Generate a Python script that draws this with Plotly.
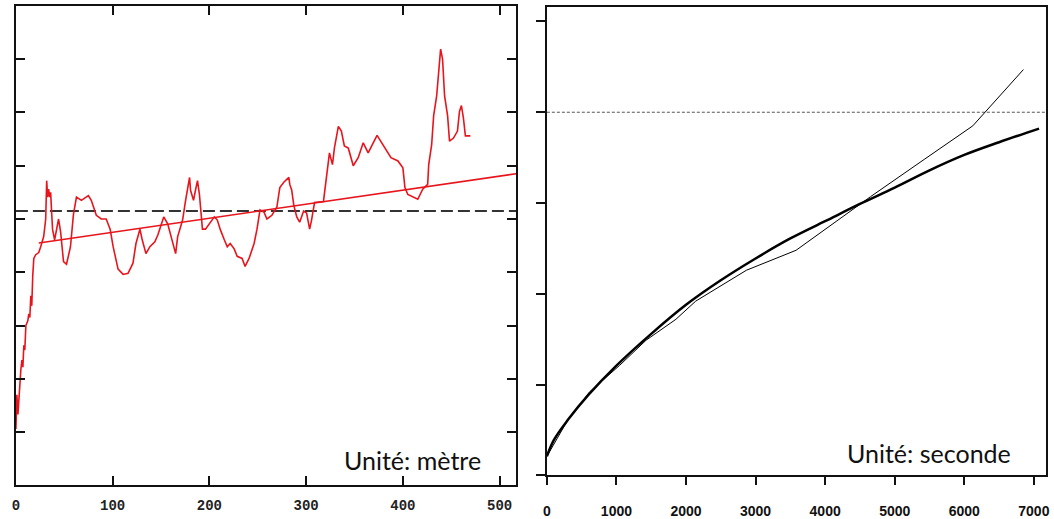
import plotly.graph_objects as go

# ---------------- Left panel (distance, metres) ----------------
dist_x = [0, 1.0, 2.1, 4.1, 5.1, 6.2, 7.2, 8.2, 9.2, 10.3, 12.3, 13.3, 14.4, 15.4, 16.4, 17.4,
          18.5, 20.5, 23.6, 25.6, 26.7, 28.7, 30.8, 31.8, 32.8, 33.8, 34.9, 35.9, 36.9, 37.9,
          40.0, 42.1, 44.1, 46.2, 47.2, 49.2, 52.3, 56.4, 59.5, 62.6, 67.7, 74.9, 77.9, 83.1,
          88.2, 93.3, 97.4, 100.5, 105.6, 110.8, 115.9, 121.0, 124.1, 128.2, 130.3, 134.4,
          138.5, 143.6, 146.7, 152.8, 156.9, 160.0, 165.1, 167.2, 172.3, 175.4, 179.5, 180.5,
          183.6, 185.6, 187.7, 189.7, 190.8, 192.8, 195.9, 200.0, 205.1, 208.2, 211.3, 215.4,
          218.5, 221.5, 225.6, 228.7, 233.8, 236.9, 241.0, 246.2, 249.2, 252.3, 256.4, 259.5,
          264.6, 269.7, 272.8, 276.9, 282.1, 283.1, 285.1, 287.2, 290.3, 293.3, 297.4, 300.5,
          303.6, 305.6, 307.7, 308.7, 317.9, 321.0, 324.1, 327.2, 329.2, 333.3, 336.4, 339.5,
          343.6, 348.7, 353.8, 359.0, 364.1, 373.3, 380.5, 387.7, 394.9, 400.0, 402.1, 405.1,
          415.4, 420.5, 425.6, 426.7, 429.7, 431.8, 434.9, 436.9, 439.0, 441.0, 443.1, 446.2,
          448.2, 452.3, 456.4, 458.5, 460.5, 462.6, 464.6, 469.7]
dist_y = [1.06, 1.70, 1.33, 1.98, 2.17, 2.35, 2.22, 2.63, 2.54, 3.00, 3.09, 3.22, 3.15, 3.56, 3.37, 3.93,
          4.26, 4.33, 4.37, 4.48, 4.56, 4.67, 5.00, 5.72, 5.41, 5.56, 5.41, 5.50, 5.13, 4.80,
          4.61, 4.85, 5.00, 4.76, 4.54, 4.20, 4.15, 4.48, 5.09, 5.41, 5.35, 5.44, 5.35, 5.07,
          5.00, 5.00, 4.81, 4.48, 4.06, 3.96, 3.98, 4.17, 4.54, 4.81, 4.63, 4.35,
          4.48, 4.57, 4.70, 5.04, 4.91, 4.70, 4.35, 4.67, 4.98, 5.35, 5.78, 5.54,
          5.35, 5.54, 5.72, 5.46, 5.17, 4.81, 4.81, 4.91, 5.04, 4.98, 4.80, 4.61,
          4.48, 4.54, 4.44, 4.30, 4.26, 4.11, 4.26, 4.54, 4.81, 5.17, 5.13, 5.00,
          5.07, 5.22, 5.59, 5.69, 5.78, 5.65, 5.54, 5.26, 5.04, 4.94, 5.15, 5.11,
          4.81, 4.98, 5.19, 5.31, 5.33, 5.78, 6.24, 6.02, 6.33, 6.74, 6.65, 6.37,
          6.33, 6.00, 6.15, 6.43, 6.24, 6.57, 6.37, 6.15, 6.09, 5.96, 5.59, 5.46,
          5.37, 5.56, 5.65, 6.02, 6.39, 6.94, 7.31, 7.69, 8.19, 8.00, 7.31, 6.94,
          6.46, 6.52, 6.65, 7.02, 7.13, 6.89, 6.56, 6.56]
trend_x = [23.6, 517]
trend_y = [4.55, 5.85]
dist_ref_level = 5.15
dist_ticks = [0, 100, 200, 300, 400, 500]
dist_yticks = [0, 1, 2, 3, 4, 5, 6, 7, 8, 9]

# ---------------- Right panel (time, seconds) ----------------
fit_x = [0, 100, 300, 600, 1000, 1500, 2000, 2500, 3000, 3500, 4000, 4500, 5000, 5500, 6000, 6500, 7075]
fit_y = [0.21, 0.39, 0.61, 0.89, 1.21, 1.56, 1.88, 2.15, 2.39, 2.61, 2.80, 2.99, 3.17, 3.36, 3.53, 3.67, 3.82]
obs_x = [0, 285, 614, 1042, 1427, 1855, 2140, 2868, 3582, 4281, 4652, 5423, 6122, 6850]
obs_y = [0.21, 0.59, 0.92, 1.21, 1.49, 1.72, 1.92, 2.26, 2.48, 2.87, 3.07, 3.48, 3.85, 4.47]
time_ref_level = 4.0
time_ticks = [0, 1000, 2000, 3000, 4000, 5000, 6000, 7000]
time_yticks = [0, 1, 2, 3, 4, 5]

RED = "#e8141c"
fig = go.Figure()

fig.add_trace(go.Scatter(x=[0, 517], y=[dist_ref_level, dist_ref_level], mode="lines",
                         line=dict(color="#333333", width=2, dash="12px,5px"),
                         xaxis="x", yaxis="y", hoverinfo="skip"))
fig.add_trace(go.Scatter(x=trend_x, y=trend_y, mode="lines",
                         line=dict(color=RED, width=1.6), xaxis="x", yaxis="y"))
fig.add_trace(go.Scatter(x=dist_x, y=dist_y, mode="lines",
                         line=dict(color=RED, width=1.6), xaxis="x", yaxis="y"))

fig.add_trace(go.Scatter(x=[0, 7175], y=[time_ref_level, time_ref_level], mode="lines",
                         line=dict(color="#555555", width=1, dash="3px,2px"),
                         xaxis="x2", yaxis="y2", hoverinfo="skip"))
fig.add_trace(go.Scatter(x=obs_x, y=obs_y, mode="lines",
                         line=dict(color="black", width=1), xaxis="x2", yaxis="y2"))
fig.add_trace(go.Scatter(x=fit_x, y=fit_y, mode="lines",
                         line=dict(color="black", width=2.5, shape="spline"),
                         xaxis="x2", yaxis="y2"))

fig.update_layout(
    width=1054, height=519,
    margin=dict(l=0, r=0, t=0, b=0),
    paper_bgcolor="white", plot_bgcolor="white",
    showlegend=False,
    xaxis=dict(domain=[12/1054, 516/1054], range=[0, 517], anchor="y",
               tickvals=dist_ticks, ticks="inside", ticklen=9, tickwidth=2, tickcolor="#111",
               showline=True, linewidth=2, linecolor="#111", mirror="ticks",
               showgrid=False, zeroline=False, ticklabelstandoff=6,
               tickfont=dict(family="Liberation Mono", size=14, color="#222", weight="bold")),
    yaxis=dict(domain=[1 - 492/519, 1 - 6/519], range=[0, 9], anchor="x",
               tickvals=dist_yticks, ticks="inside", ticklen=9, tickwidth=2, tickcolor="#111",
               showline=True, linewidth=2, linecolor="#111", mirror="ticks",
               showgrid=False, zeroline=False, showticklabels=False),
    xaxis2=dict(domain=[547/1054, 1050/1054], range=[0, 7175], anchor="y2",
                tickvals=time_ticks, ticks="outside", ticklen=8, tickwidth=1.5, tickcolor="#111",
                showline=True, linewidth=2, linecolor="#111", mirror=True,
                showgrid=False, zeroline=False, ticklabelstandoff=14,
                ticklabeloverflow="allow",
                tickfont=dict(family="Liberation Sans", size=14,
                              color="#111", weight="bold")),
    yaxis2=dict(domain=[1 - 482/519, 1 - 7/519], range=[0, 5.16], anchor="x2",
                tickvals=time_yticks, ticks="outside", ticklen=9, tickwidth=1.5, tickcolor="#111",
                showline=True, linewidth=2, linecolor="#111", mirror=True,
                showgrid=False, zeroline=False, showticklabels=False),
    annotations=[
        dict(text="Unité: mètre", x=412/1054, y=1 - 466/519, xref="paper", yref="paper",
             showarrow=False, xanchor="center", yanchor="middle",
             font=dict(family="Lato", size=25, color="#111")),
        dict(text="Unité: seconde", x=932/1054, y=1 - 459/519, xref="paper", yref="paper",
             showarrow=False, xanchor="center", yanchor="middle",
             font=dict(family="Lato", size=25, color="#111")),
    ],
)

fig.write_html("out.html", config={"displayModeBar": False},
               post_script="document.body.style.margin='0';document.body.style.overflow='hidden';")
